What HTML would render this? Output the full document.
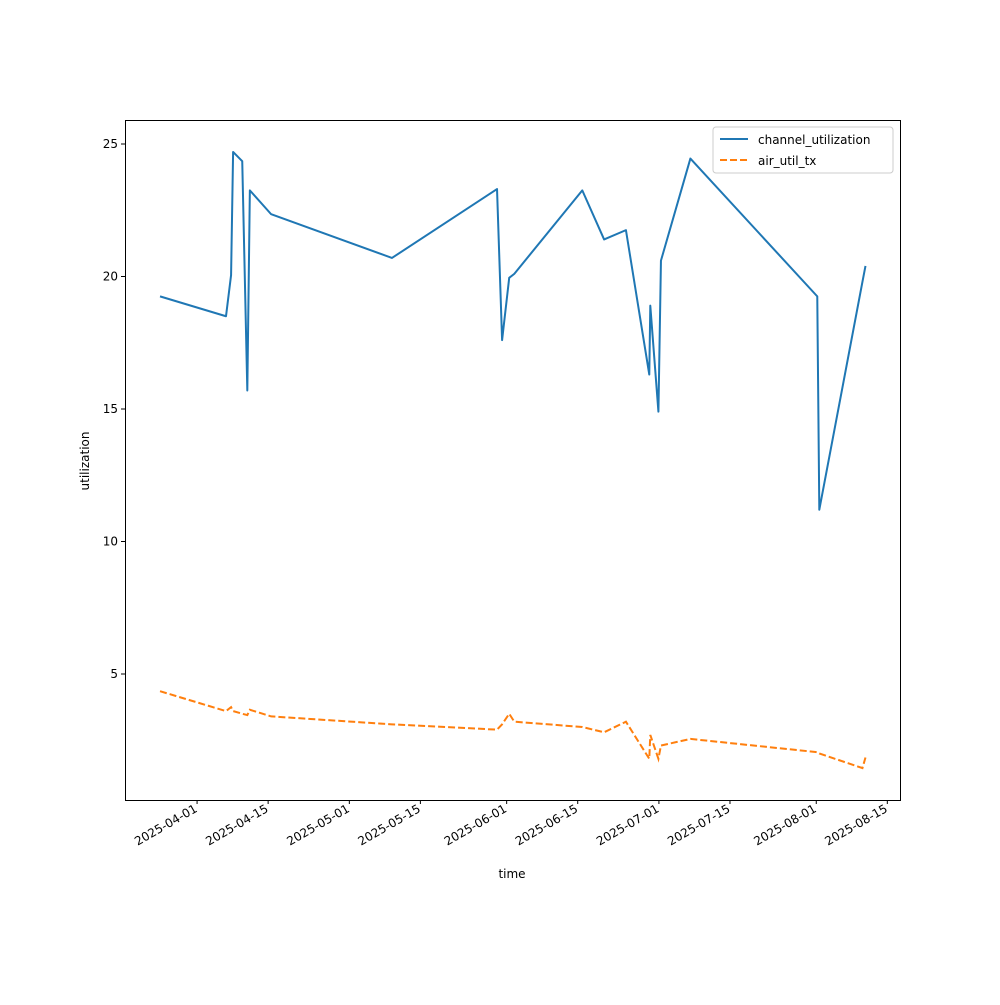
<!DOCTYPE html>
<html><head><meta charset="utf-8"><style>
body{margin:0;background:#fff}
text{font-family:"DejaVu Sans","Liberation Sans",sans-serif;font-size:12px;fill:#000}
</style></head><body>
<svg id="chart" width="1000" height="1000" xmlns="http://www.w3.org/2000/svg">
<rect x="0" y="0" width="1000" height="1000" fill="#fff"/>
<g id="plot"></g>
<rect x="125.5" y="120.5" width="775" height="680" fill="none" stroke="#000" stroke-width="1"/>
<text x="512" y="878" text-anchor="middle" font-size="13">time</text>
<text transform="translate(89,461) rotate(-90)" text-anchor="middle" font-size="13">utilization</text>
<g>
<rect x="713" y="127" width="180" height="46" fill="#fff" stroke="#ccc" rx="3"/>
<line x1="720" y1="139" x2="748" y2="139" stroke="#1f77b4" stroke-width="2"/>
<text x="758" y="144" font-size="13">channel_utilization</text>
<line x1="720" y1="160" x2="748" y2="160" stroke="#ff7f0e" stroke-width="2" stroke-dasharray="7,3"/>
<text x="758" y="165" font-size="13">air_util_tx</text>
</g>
</svg>
<script>
// days offset from 2025-04-01
const days = [-7.3,5.7,6.7,7.1,8.9,9.9,10.4,14.6,38.4,59.1,60.1,61.5,62.5,75.9,80.2,84.5,89.1,89.3,90.9,91.4,97.2,122.2,122.6,131.1,131.7];
const channelUtil = [19.25,18.5,20.05,24.7,24.35,15.7,23.25,22.35,20.7,23.3,17.6,19.95,20.1,23.25,21.4,21.75,16.3,18.9,14.9,20.6,24.45,19.25,11.2,19.8,20.4];
const airUtil = [4.35,3.6,3.75,3.6,3.5,3.45,3.65,3.4,3.1,2.9,3.1,3.5,3.2,3.0,2.8,3.2,1.8,2.7,1.8,2.3,2.55,2.05,2.0,1.45,1.85];
const xTickLabels = ["2025-04-01","2025-04-15","2025-05-01","2025-05-15","2025-06-01","2025-06-15","2025-07-01","2025-07-15","2025-08-01","2025-08-15"];
const xTickDays = [0,14,30,44,61,75,91,105,122,136];
const yTicks = [5,10,15,20,25];

const X0=125,X1=900,Y0=800,Y1=120;
const dMin=-14.2,dMax=138.5,vMin=0.245,vMax=25.906;
const xs=d=>X0+(d-dMin)/(dMax-dMin)*(X1-X0);
const ys=v=>Y0-(v-vMin)/(vMax-vMin)*(Y0-Y1);
const NS="http://www.w3.org/2000/svg";
const g=document.getElementById('plot');
function mk(t,a){const e=document.createElementNS(NS,t);for(const k in a)e.setAttribute(k,a[k]);g.appendChild(e);return e;}

yTicks.forEach(v=>{
  const y=ys(v);
  const l=mk('line',{x1:X0-4,x2:X0,y1:y,y2:y,stroke:'#000'});
  
  
  const t=mk('text',{x:X0-7,y:y+4,'text-anchor':'end'});
  t.textContent=v;
  
  
});
xTickDays.forEach((d,i)=>{
  const x=xs(d);
  const l=mk('line',{x1:x,x2:x,y1:Y0,y2:Y0+4,stroke:'#000'});
  
  
  const t=mk('text',{transform:`translate(${x+1},${Y0+11}) rotate(-30)`,'text-anchor':'end'});
  t.textContent=xTickLabels[i];
  
  
});
const p1=mk('polyline',{points:days.map((d,i)=>xs(d)+','+ys(channelUtil[i])).join(' '),fill:'none',stroke:'#1f77b4','stroke-width':2,'stroke-linejoin':'round'});


const p2=mk('polyline',{points:days.map((d,i)=>xs(d)+','+ys(airUtil[i])).join(' '),fill:'none',stroke:'#ff7f0e','stroke-width':2,'stroke-dasharray':'7,3'});


</script>
</body></html>
